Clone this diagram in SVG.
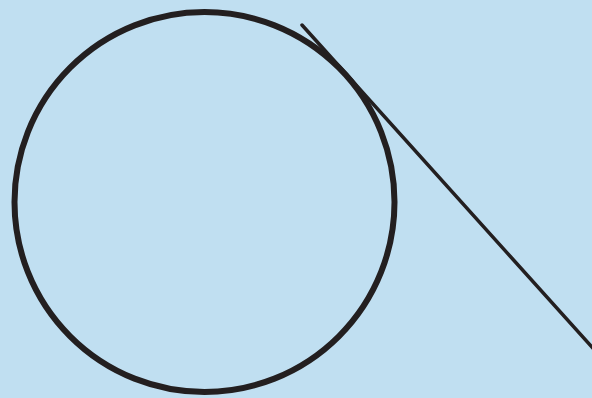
<svg xmlns="http://www.w3.org/2000/svg" width="592" height="398" viewBox="0 0 592 398">
<style>
.s{fill:none;stroke:#231f20;stroke-linecap:round}
</style>
<rect width="592" height="398" fill="#c0dff1"/>
<g id="circle"><circle class="s" cx="204.5" cy="202" r="190" stroke-width="6"/></g>
<g id="connectors"><line class="s" x1="302" y1="25" x2="600" y2="356" stroke-width="3.5"/></g>
</svg>
